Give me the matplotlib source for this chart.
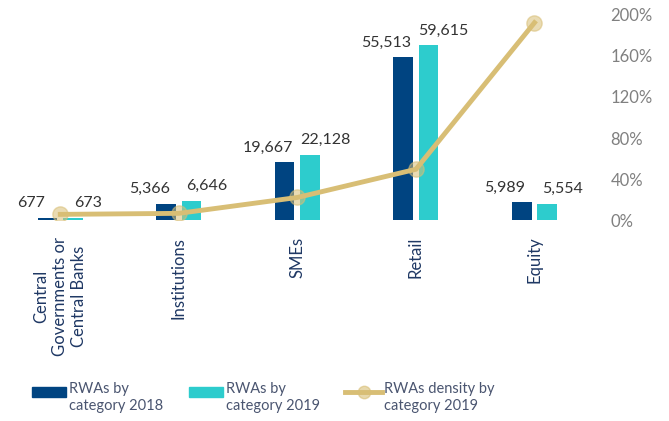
import matplotlib
matplotlib.use('Agg')
import matplotlib.pyplot as plt
from matplotlib.lines import Line2D
from matplotlib.patches import Rectangle
import numpy as np

plt.rcParams['font.family'] = ['Lato', 'DejaVu Sans']

# =============================== data ===================================
categories = ['Central\nGovernments or\nCentral Banks', 'Institutions', 'SMEs', 'Retail', 'Equity']
rwas_2018 = [677, 5366, 19667, 55513, 5989]
rwas_2019 = [673, 6646, 22128, 59615, 5554]
density_2019 = [5.5, 6.5, 22, 49.5, 192.5]
pct_ticks = [0, 40, 80, 120, 160, 200]
legend_labels = ['RWAs by\ncategory 2018', 'RWAs by\ncategory 2019', 'RWAs density by\ncategory 2019']

c18 = '#004481'
c19 = '#2DCCCD'
cgold = '#D8BE75'
navy_txt = '#1F3864'

# =============================== plot ===================================
W, H = 669, 421
fig = plt.figure(figsize=(W / 100, H / 100), dpi=100)
ax = fig.add_axes([0.0015, 0.4774, 0.886, 0.4870])
x = np.arange(len(categories))
w = 0.165
off = 0.107
ax.bar(x - off, rwas_2018, w, color=c18)
ax.bar(x + off, rwas_2019, w, color=c19)
ax.set_ylim(0, 70000)
ax.set_xlim(-0.5, len(categories) - 0.5)
ax.set_yticks([])
for s in ax.spines.values():
    s.set_visible(False)

for xi, v in zip(x, rwas_2018):
    ax.annotate(f'{v:,}', (xi - off, v), xytext=(-17, 8), textcoords='offset pixels',
                ha='center', va='bottom', fontsize=11.5, color='#333333')
for xi, v in zip(x, rwas_2019):
    ax.annotate(f'{v:,}', (xi + off, v), xytext=(15, 8), textcoords='offset pixels',
                ha='center', va='bottom', fontsize=11.5, color='#333333')

ax.set_xticks(x)
ax.set_xticklabels(categories, rotation=90, fontsize=12, color=navy_txt,
                   ha='center', va='top', multialignment='center')
ax.tick_params(axis='x', length=0, pad=12)

ax2 = ax.twinx()
ax2.plot(x, density_2019, color=cgold, lw=3.5, zorder=3)
ax2.plot(x, density_2019, 'o', color=cgold, ms=11, alpha=0.55, zorder=4)
ax2.set_ylim(0, 200)
ax2.set_yticks(pct_ticks)
ax2.set_yticklabels([f'{t}%' for t in pct_ticks], fontsize=12, color='#808080')
ax2.tick_params(axis='y', length=0, pad=12)
for s in ax2.spines.values():
    s.set_visible(False)

# =============================== legend ===================================
key_y = 1 - 392 / H
fig.patches.append(Rectangle((32 / W, 1 - 397 / H), 34 / W, 10 / H, color=c18,
                             transform=fig.transFigure))
fig.patches.append(Rectangle((189 / W, 1 - 397 / H), 34 / W, 10 / H, color=c19,
                             transform=fig.transFigure))
fig.lines.append(Line2D([345 / W, 382 / W], [key_y, key_y], color=cgold, lw=3.5,
                        transform=fig.transFigure))
fig.lines.append(Line2D([363.5 / W], [key_y], marker='o', ms=9, color=cgold, alpha=0.6,
                        transform=fig.transFigure))
for tx, lab in zip([69, 226, 384], legend_labels):
    fig.text(tx / W, 1 - 382 / H, lab, ha='left', va='top', fontsize=10.5,
             color='#4A5570', linespacing=1.25)

fig.savefig('out.png', dpi=100)
